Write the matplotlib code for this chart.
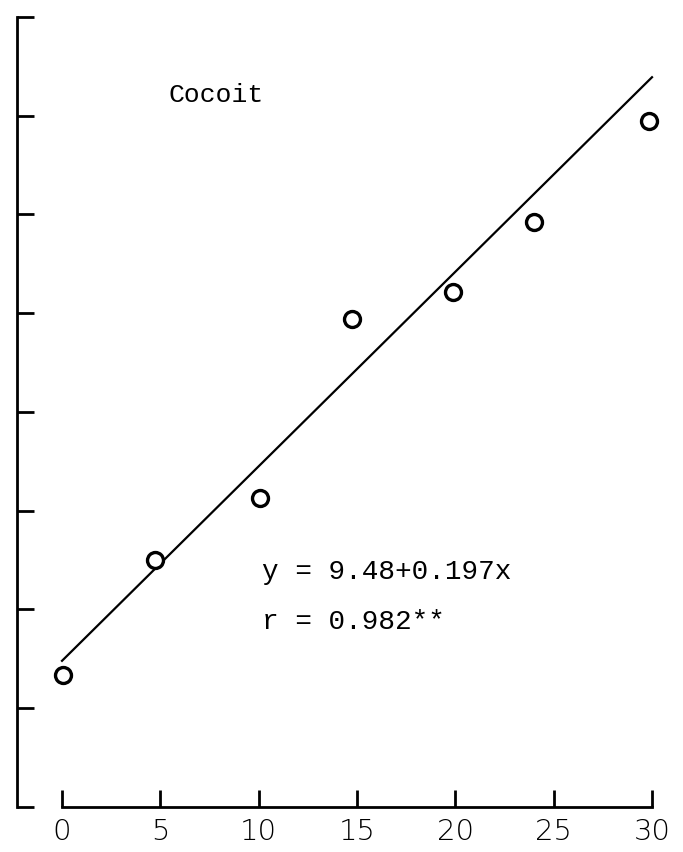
import matplotlib
matplotlib.use("Agg")
import matplotlib.pyplot as plt

# sampling day vs. measured value, Cocoit
days = [0.05, 4.73, 10.07, 14.75, 19.88, 24.0, 29.85]
values = [9.34, 10.50, 11.13, 12.94, 13.21, 13.92, 14.95]

# fitted regression y = a + b*x
a, b = 9.48, 0.197
fit_x = [0, 30]
fit_y = [a + b * x for x in fit_x]

x_ticks = [0, 5, 10, 15, 20, 25, 30]
y_ticks = [8, 9, 10, 11, 12, 13, 14, 15, 16]

fig = plt.figure(figsize=(6.83, 8.52), dpi=100)
ax = fig.add_axes([0, 0, 1, 1])
ax.set_xlim(-3.153, 31.576)
ax.set_ylim(7.544, 16.172)

ax.plot(fit_x, fit_y, color="black", lw=1.6)
ax.plot(days, values, "o", ms=11.5, mfc="white", mec="black", mew=2.4)

# detached axes, hand-drawn style
for s in ("top", "right"):
    ax.spines[s].set_visible(False)
ax.spines["left"].set_position(("data", -2.29))
ax.spines["left"].set_bounds(8, 16)
ax.spines["bottom"].set_position(("data", 8))
ax.spines["bottom"].set_bounds(0, 30)
for s in ("left", "bottom"):
    ax.spines[s].set_linewidth(2)

ax.set_xticks(x_ticks)
ax.set_yticks(y_ticks)
ax.set_yticklabels([])
ax.tick_params(axis="both", direction="in", length=12, width=2)
ax.tick_params(axis="x", pad=8, labelsize=21)
for lbl in ax.get_xticklabels():
    lbl.set_fontfamily("DejaVu Sans")
    lbl.set_fontweight("light")

mono = dict(transform=None, family="Liberation Mono", va="center", ha="left")
ax.text(168, 852 - 95, "Cocoit", fontsize=19, **mono)
ax.text(262, 852 - 572, f"y = {a}+{b}x", fontsize=20, **mono)
ax.text(262, 852 - 622, "r = 0.982**", fontsize=20, **mono)

fig.savefig("out.png", dpi=100)
